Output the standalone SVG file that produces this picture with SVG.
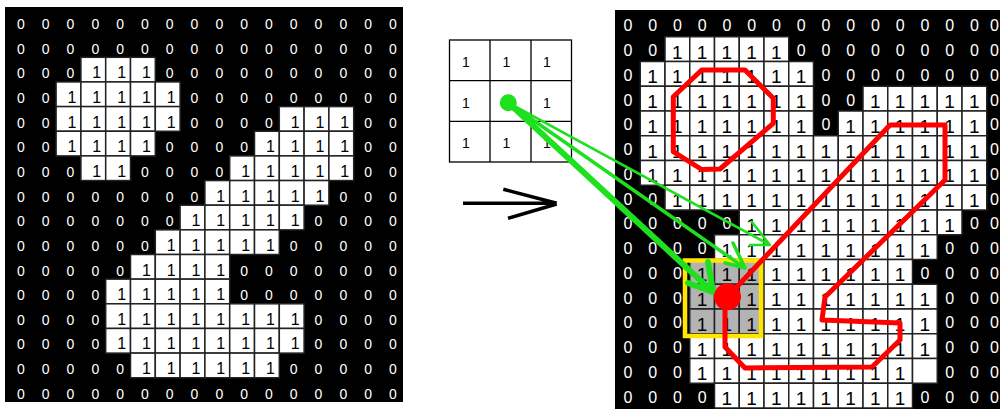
<svg xmlns="http://www.w3.org/2000/svg" xmlns:xlink="http://www.w3.org/1999/xlink" width="1000" height="409" viewBox="0 0 1000 409">
<style>
.a{font:14px "Liberation Sans",Arial,sans-serif;fill:#fff;text-anchor:middle}
.b{font:16px "Liberation Sans",Arial,sans-serif;fill:#000;text-anchor:middle}
.c{font:16px "Liberation Sans",Arial,sans-serif;fill:#fff;text-anchor:middle}
.d{font:19px "Liberation Sans",Arial,sans-serif;fill:#000;text-anchor:middle}
.k{font:14px "Liberation Sans",Arial,sans-serif;fill:#000;text-anchor:middle}
.w{fill:#fff;stroke:#222;stroke-width:1.5}
.g{fill:#b3b3b3;stroke:#222;stroke-width:1.5}
.gr{fill:none;stroke:#1ee01e;stroke-linecap:round;stroke-linejoin:round}
.rd{fill:none;stroke:#f00;stroke-width:5;stroke-linejoin:round}
</style>
<defs>
<rect id="L" class="w" y="-21" width="24.8" height="24.65"/>
<rect id="R" class="w" y="-19.3" width="24.75" height="24.75"/>
<rect id="G" class="g" y="-19.3" width="24.75" height="24.75"/>
</defs>
<rect width="1000" height="409" fill="#fff"/>
<g id="left-grid">
<rect x="5" y="7" width="398" height="395" fill="#000"/>
<g transform="translate(0,29)"><text class="a" x="20.9">0</text><text class="a" x="45.7">0</text><text class="a" x="70.5">0</text><text class="a" x="95.3">0</text><text class="a" x="120.1">0</text><text class="a" x="144.9">0</text><text class="a" x="169.7">0</text><text class="a" x="194.5">0</text><text class="a" x="219.3">0</text><text class="a" x="244.1">0</text><text class="a" x="268.9">0</text><text class="a" x="293.7">0</text><text class="a" x="318.5">0</text><text class="a" x="343.3">0</text><text class="a" x="368.1">0</text><text class="a" x="392.9">0</text></g>
<g transform="translate(0,53.65)"><text class="a" x="20.9">0</text><text class="a" x="45.7">0</text><text class="a" x="70.5">0</text><text class="a" x="95.3">0</text><text class="a" x="120.1">0</text><text class="a" x="144.9">0</text><text class="a" x="169.7">0</text><text class="a" x="194.5">0</text><text class="a" x="219.3">0</text><text class="a" x="244.1">0</text><text class="a" x="268.9">0</text><text class="a" x="293.7">0</text><text class="a" x="318.5">0</text><text class="a" x="343.3">0</text><text class="a" x="368.1">0</text><text class="a" x="392.9">0</text></g>
<g transform="translate(0,78.3)"><text class="a" x="20.9">0</text><text class="a" x="45.7">0</text><text class="a" x="70.5">0</text><use href="#L" x="80.9"/><text class="b" x="96.8">1</text><use href="#L" x="105.7"/><text class="b" x="121.6">1</text><use href="#L" x="130.5"/><text class="b" x="146.4">1</text><text class="a" x="169.7">0</text><text class="a" x="194.5">0</text><text class="a" x="219.3">0</text><text class="a" x="244.1">0</text><text class="a" x="268.9">0</text><text class="a" x="293.7">0</text><text class="a" x="318.5">0</text><text class="a" x="343.3">0</text><text class="a" x="368.1">0</text><text class="a" x="392.9">0</text></g>
<g transform="translate(0,102.95)"><text class="a" x="20.9">0</text><text class="a" x="45.7">0</text><use href="#L" x="56.1"/><text class="b" x="72">1</text><use href="#L" x="80.9"/><text class="b" x="96.8">1</text><use href="#L" x="105.7"/><text class="b" x="121.6">1</text><use href="#L" x="130.5"/><text class="b" x="146.4">1</text><use href="#L" x="155.3"/><text class="b" x="171.2">1</text><text class="a" x="194.5">0</text><text class="a" x="219.3">0</text><text class="a" x="244.1">0</text><text class="a" x="268.9">0</text><text class="a" x="293.7">0</text><text class="a" x="318.5">0</text><text class="a" x="343.3">0</text><text class="a" x="368.1">0</text><text class="a" x="392.9">0</text></g>
<g transform="translate(0,127.6)"><text class="a" x="20.9">0</text><text class="a" x="45.7">0</text><use href="#L" x="56.1"/><text class="b" x="72">1</text><use href="#L" x="80.9"/><text class="b" x="96.8">1</text><use href="#L" x="105.7"/><text class="b" x="121.6">1</text><use href="#L" x="130.5"/><text class="b" x="146.4">1</text><use href="#L" x="155.3"/><text class="b" x="171.2">1</text><text class="a" x="194.5">0</text><text class="a" x="219.3">0</text><text class="a" x="244.1">0</text><text class="a" x="268.9">0</text><use href="#L" x="279.3"/><text class="b" x="295.2">1</text><use href="#L" x="304.1"/><text class="b" x="320">1</text><use href="#L" x="328.9"/><text class="b" x="344.8">1</text><text class="a" x="368.1">0</text><text class="a" x="392.9">0</text></g>
<g transform="translate(0,152.25)"><text class="a" x="20.9">0</text><text class="a" x="45.7">0</text><use href="#L" x="56.1"/><text class="b" x="72">1</text><use href="#L" x="80.9"/><text class="b" x="96.8">1</text><use href="#L" x="105.7"/><text class="b" x="121.6">1</text><use href="#L" x="130.5"/><text class="b" x="146.4">1</text><text class="a" x="169.7">0</text><text class="a" x="194.5">0</text><text class="a" x="219.3">0</text><text class="a" x="244.1">0</text><use href="#L" x="254.5"/><text class="b" x="270.4">1</text><use href="#L" x="279.3"/><text class="b" x="295.2">1</text><use href="#L" x="304.1"/><text class="b" x="320">1</text><use href="#L" x="328.9"/><text class="b" x="344.8">1</text><text class="a" x="368.1">0</text><text class="a" x="392.9">0</text></g>
<g transform="translate(0,176.9)"><text class="a" x="20.9">0</text><text class="a" x="45.7">0</text><text class="a" x="70.5">0</text><use href="#L" x="80.9"/><text class="b" x="96.8">1</text><use href="#L" x="105.7"/><text class="b" x="121.6">1</text><text class="a" x="144.9">0</text><text class="a" x="169.7">0</text><text class="a" x="194.5">0</text><text class="a" x="219.3">0</text><use href="#L" x="229.7"/><text class="b" x="245.6">1</text><use href="#L" x="254.5"/><text class="b" x="270.4">1</text><use href="#L" x="279.3"/><text class="b" x="295.2">1</text><use href="#L" x="304.1"/><text class="b" x="320">1</text><use href="#L" x="328.9"/><text class="b" x="344.8">1</text><text class="a" x="368.1">0</text><text class="a" x="392.9">0</text></g>
<g transform="translate(0,201.55)"><text class="a" x="20.9">0</text><text class="a" x="45.7">0</text><text class="a" x="70.5">0</text><text class="a" x="95.3">0</text><text class="a" x="120.1">0</text><text class="a" x="144.9">0</text><text class="a" x="169.7">0</text><text class="a" x="194.5">0</text><use href="#L" x="204.9"/><text class="b" x="220.8">1</text><use href="#L" x="229.7"/><text class="b" x="245.6">1</text><use href="#L" x="254.5"/><text class="b" x="270.4">1</text><use href="#L" x="279.3"/><text class="b" x="295.2">1</text><use href="#L" x="304.1"/><text class="b" x="320">1</text><text class="a" x="343.3">0</text><text class="a" x="368.1">0</text><text class="a" x="392.9">0</text></g>
<g transform="translate(0,226.2)"><text class="a" x="20.9">0</text><text class="a" x="45.7">0</text><text class="a" x="70.5">0</text><text class="a" x="95.3">0</text><text class="a" x="120.1">0</text><text class="a" x="144.9">0</text><text class="a" x="169.7">0</text><use href="#L" x="180.1"/><text class="b" x="196">1</text><use href="#L" x="204.9"/><text class="b" x="220.8">1</text><use href="#L" x="229.7"/><text class="b" x="245.6">1</text><use href="#L" x="254.5"/><text class="b" x="270.4">1</text><use href="#L" x="279.3"/><text class="b" x="295.2">1</text><text class="a" x="318.5">0</text><text class="a" x="343.3">0</text><text class="a" x="368.1">0</text><text class="a" x="392.9">0</text></g>
<g transform="translate(0,250.85)"><text class="a" x="20.9">0</text><text class="a" x="45.7">0</text><text class="a" x="70.5">0</text><text class="a" x="95.3">0</text><text class="a" x="120.1">0</text><text class="a" x="144.9">0</text><use href="#L" x="155.3"/><text class="b" x="171.2">1</text><use href="#L" x="180.1"/><text class="b" x="196">1</text><use href="#L" x="204.9"/><text class="b" x="220.8">1</text><use href="#L" x="229.7"/><text class="b" x="245.6">1</text><use href="#L" x="254.5"/><text class="b" x="270.4">1</text><text class="a" x="293.7">0</text><text class="a" x="318.5">0</text><text class="a" x="343.3">0</text><text class="a" x="368.1">0</text><text class="a" x="392.9">0</text></g>
<g transform="translate(0,275.5)"><text class="a" x="20.9">0</text><text class="a" x="45.7">0</text><text class="a" x="70.5">0</text><text class="a" x="95.3">0</text><text class="a" x="120.1">0</text><use href="#L" x="130.5"/><text class="b" x="146.4">1</text><use href="#L" x="155.3"/><text class="b" x="171.2">1</text><use href="#L" x="180.1"/><text class="b" x="196">1</text><use href="#L" x="204.9"/><text class="b" x="220.8">1</text><text class="a" x="244.1">0</text><text class="a" x="268.9">0</text><text class="a" x="293.7">0</text><text class="a" x="318.5">0</text><text class="a" x="343.3">0</text><text class="a" x="368.1">0</text><text class="a" x="392.9">0</text></g>
<g transform="translate(0,300.15)"><text class="a" x="20.9">0</text><text class="a" x="45.7">0</text><text class="a" x="70.5">0</text><text class="a" x="95.3">0</text><use href="#L" x="105.7"/><text class="b" x="121.6">1</text><use href="#L" x="130.5"/><text class="b" x="146.4">1</text><use href="#L" x="155.3"/><text class="b" x="171.2">1</text><use href="#L" x="180.1"/><text class="b" x="196">1</text><use href="#L" x="204.9"/><text class="b" x="220.8">1</text><text class="a" x="244.1">0</text><text class="a" x="268.9">0</text><text class="a" x="293.7">0</text><text class="a" x="318.5">0</text><text class="a" x="343.3">0</text><text class="a" x="368.1">0</text><text class="a" x="392.9">0</text></g>
<g transform="translate(0,324.8)"><text class="a" x="20.9">0</text><text class="a" x="45.7">0</text><text class="a" x="70.5">0</text><text class="a" x="95.3">0</text><use href="#L" x="105.7"/><text class="b" x="121.6">1</text><use href="#L" x="130.5"/><text class="b" x="146.4">1</text><use href="#L" x="155.3"/><text class="b" x="171.2">1</text><use href="#L" x="180.1"/><text class="b" x="196">1</text><use href="#L" x="204.9"/><text class="b" x="220.8">1</text><use href="#L" x="229.7"/><text class="b" x="245.6">1</text><use href="#L" x="254.5"/><text class="b" x="270.4">1</text><use href="#L" x="279.3"/><text class="b" x="295.2">1</text><text class="a" x="318.5">0</text><text class="a" x="343.3">0</text><text class="a" x="368.1">0</text><text class="a" x="392.9">0</text></g>
<g transform="translate(0,349.45)"><text class="a" x="20.9">0</text><text class="a" x="45.7">0</text><text class="a" x="70.5">0</text><text class="a" x="95.3">0</text><use href="#L" x="105.7"/><text class="b" x="121.6">1</text><use href="#L" x="130.5"/><text class="b" x="146.4">1</text><use href="#L" x="155.3"/><text class="b" x="171.2">1</text><use href="#L" x="180.1"/><text class="b" x="196">1</text><use href="#L" x="204.9"/><text class="b" x="220.8">1</text><use href="#L" x="229.7"/><text class="b" x="245.6">1</text><use href="#L" x="254.5"/><text class="b" x="270.4">1</text><use href="#L" x="279.3"/><text class="b" x="295.2">1</text><text class="a" x="318.5">0</text><text class="a" x="343.3">0</text><text class="a" x="368.1">0</text><text class="a" x="392.9">0</text></g>
<g transform="translate(0,374.1)"><text class="a" x="20.9">0</text><text class="a" x="45.7">0</text><text class="a" x="70.5">0</text><text class="a" x="95.3">0</text><text class="a" x="120.1">0</text><use href="#L" x="130.5"/><text class="b" x="146.4">1</text><use href="#L" x="155.3"/><text class="b" x="171.2">1</text><use href="#L" x="180.1"/><text class="b" x="196">1</text><use href="#L" x="204.9"/><text class="b" x="220.8">1</text><use href="#L" x="229.7"/><text class="b" x="245.6">1</text><use href="#L" x="254.5"/><text class="b" x="270.4">1</text><text class="a" x="293.7">0</text><text class="a" x="318.5">0</text><text class="a" x="343.3">0</text><text class="a" x="368.1">0</text><text class="a" x="392.9">0</text></g>
<g transform="translate(0,398.75)"><text class="a" x="20.9">0</text><text class="a" x="45.7">0</text><text class="a" x="70.5">0</text><text class="a" x="95.3">0</text><text class="a" x="120.1">0</text><text class="a" x="144.9">0</text><text class="a" x="169.7">0</text><text class="a" x="194.5">0</text><text class="a" x="219.3">0</text><text class="a" x="244.1">0</text><text class="a" x="268.9">0</text><text class="a" x="293.7">0</text><text class="a" x="318.5">0</text><text class="a" x="343.3">0</text><text class="a" x="368.1">0</text><text class="a" x="392.9">0</text></g>
</g>
<g id="kernel">
<rect x="449.5" y="40" width="122" height="122" fill="#fff" stroke="#000" stroke-width="1.3"/>
<path d="M490 40V162M531 40V162M449.5 80.7H571.5M449.5 121.3H571.5" stroke="#000" stroke-width="1.3"/>
<text class="k" x="466" y="66.7">1</text><text class="k" x="506.5" y="66.7">1</text><text class="k" x="547" y="66.7">1</text>
<text class="k" x="466" y="108.3">1</text><text class="k" x="547" y="108.3">1</text>
<text class="k" x="466" y="148.3">1</text><text class="k" x="506.5" y="148.3">1</text><text class="k" x="547" y="148.3">1</text>
</g>
<g id="right-grid">
<rect x="615" y="10" width="385" height="399" fill="#000"/>
<g transform="translate(0,31.3)"><text class="c" x="627.9">0</text><text class="c" x="652.6">0</text><text class="c" x="677.4">0</text><text class="c" x="702.1">0</text><text class="c" x="726.9">0</text><text class="c" x="751.6">0</text><text class="c" x="776.4">0</text><text class="c" x="801.1">0</text><text class="c" x="825.9">0</text><text class="c" x="850.6">0</text><text class="c" x="875.4">0</text><text class="c" x="900.1">0</text><text class="c" x="924.9">0</text><text class="c" x="949.6">0</text><text class="c" x="974.4">0</text><text class="c" x="994.5">0</text></g>
<g transform="translate(0,56.05)"><text class="c" x="627.9">0</text><text class="c" x="652.6">0</text><use href="#R" x="665"/><text class="d" x="677.4" y="2.5">1</text><use href="#R" x="689.75"/><text class="d" x="702.1" y="2.5">1</text><use href="#R" x="714.5"/><text class="d" x="726.9" y="2.5">1</text><use href="#R" x="739.25"/><text class="d" x="751.6" y="2.5">1</text><use href="#R" x="764"/><text class="d" x="776.4" y="2.5">1</text><text class="c" x="801.1">0</text><text class="c" x="825.9">0</text><text class="c" x="850.6">0</text><text class="c" x="875.4">0</text><text class="c" x="900.1">0</text><text class="c" x="924.9">0</text><text class="c" x="949.6">0</text><text class="c" x="974.4">0</text><text class="c" x="994.5">0</text></g>
<g transform="translate(0,80.8)"><text class="c" x="627.9">0</text><use href="#R" x="640.25"/><text class="d" x="652.6" y="2.5">1</text><use href="#R" x="665"/><text class="d" x="677.4" y="2.5">1</text><use href="#R" x="689.75"/><text class="d" x="702.1" y="2.5">1</text><use href="#R" x="714.5"/><text class="d" x="726.9" y="2.5">1</text><use href="#R" x="739.25"/><text class="d" x="751.6" y="2.5">1</text><use href="#R" x="764"/><text class="d" x="776.4" y="2.5">1</text><use href="#R" x="788.75"/><text class="d" x="801.1" y="2.5">1</text><text class="c" x="825.9">0</text><text class="c" x="850.6">0</text><text class="c" x="875.4">0</text><text class="c" x="900.1">0</text><text class="c" x="924.9">0</text><text class="c" x="949.6">0</text><text class="c" x="974.4">0</text><text class="c" x="994.5">0</text></g>
<g transform="translate(0,105.55)"><text class="c" x="627.9">0</text><use href="#R" x="640.25"/><text class="d" x="652.6" y="2.5">1</text><use href="#R" x="665"/><text class="d" x="677.4" y="2.5">1</text><use href="#R" x="689.75"/><text class="d" x="702.1" y="2.5">1</text><use href="#R" x="714.5"/><text class="d" x="726.9" y="2.5">1</text><use href="#R" x="739.25"/><text class="d" x="751.6" y="2.5">1</text><use href="#R" x="764"/><text class="d" x="776.4" y="2.5">1</text><use href="#R" x="788.75"/><text class="d" x="801.1" y="2.5">1</text><text class="c" x="825.9">0</text><text class="c" x="850.6">0</text><use href="#R" x="863"/><text class="d" x="875.4" y="2.5">1</text><use href="#R" x="887.75"/><text class="d" x="900.1" y="2.5">1</text><use href="#R" x="912.5"/><text class="d" x="924.9" y="2.5">1</text><use href="#R" x="937.25"/><text class="d" x="949.6" y="2.5">1</text><use href="#R" x="962"/><text class="d" x="974.4" y="2.5">1</text><text class="c" x="994.5">0</text></g>
<g transform="translate(0,130.3)"><text class="c" x="627.9">0</text><use href="#R" x="640.25"/><text class="d" x="652.6" y="2.5">1</text><use href="#R" x="665"/><text class="d" x="677.4" y="2.5">1</text><use href="#R" x="689.75"/><text class="d" x="702.1" y="2.5">1</text><use href="#R" x="714.5"/><text class="d" x="726.9" y="2.5">1</text><use href="#R" x="739.25"/><text class="d" x="751.6" y="2.5">1</text><use href="#R" x="764"/><text class="d" x="776.4" y="2.5">1</text><use href="#R" x="788.75"/><text class="d" x="801.1" y="2.5">1</text><text class="c" x="825.9">0</text><use href="#R" x="838.25"/><text class="d" x="850.6" y="2.5">1</text><use href="#R" x="863"/><text class="d" x="875.4" y="2.5">1</text><use href="#R" x="887.75"/><text class="d" x="900.1" y="2.5">1</text><use href="#R" x="912.5"/><text class="d" x="924.9" y="2.5">1</text><use href="#R" x="937.25"/><text class="d" x="949.6" y="2.5">1</text><use href="#R" x="962"/><text class="d" x="974.4" y="2.5">1</text><text class="c" x="994.5">0</text></g>
<g transform="translate(0,155.05)"><text class="c" x="627.9">0</text><use href="#R" x="640.25"/><text class="d" x="652.6" y="2.5">1</text><use href="#R" x="665"/><text class="d" x="677.4" y="2.5">1</text><use href="#R" x="689.75"/><text class="d" x="702.1" y="2.5">1</text><use href="#R" x="714.5"/><text class="d" x="726.9" y="2.5">1</text><use href="#R" x="739.25"/><text class="d" x="751.6" y="2.5">1</text><use href="#R" x="764"/><text class="d" x="776.4" y="2.5">1</text><use href="#R" x="788.75"/><text class="d" x="801.1" y="2.5">1</text><use href="#R" x="813.5"/><text class="d" x="825.9" y="2.5">1</text><use href="#R" x="838.25"/><text class="d" x="850.6" y="2.5">1</text><use href="#R" x="863"/><text class="d" x="875.4" y="2.5">1</text><use href="#R" x="887.75"/><text class="d" x="900.1" y="2.5">1</text><use href="#R" x="912.5"/><text class="d" x="924.9" y="2.5">1</text><use href="#R" x="937.25"/><text class="d" x="949.6" y="2.5">1</text><use href="#R" x="962"/><text class="d" x="974.4" y="2.5">1</text><text class="c" x="994.5">0</text></g>
<g transform="translate(0,179.8)"><text class="c" x="627.9">0</text><use href="#R" x="640.25"/><text class="d" x="652.6" y="2.5">1</text><use href="#R" x="665"/><text class="d" x="677.4" y="2.5">1</text><use href="#R" x="689.75"/><text class="d" x="702.1" y="2.5">1</text><use href="#R" x="714.5"/><text class="d" x="726.9" y="2.5">1</text><use href="#R" x="739.25"/><text class="d" x="751.6" y="2.5">1</text><use href="#R" x="764"/><text class="d" x="776.4" y="2.5">1</text><use href="#R" x="788.75"/><text class="d" x="801.1" y="2.5">1</text><use href="#R" x="813.5"/><text class="d" x="825.9" y="2.5">1</text><use href="#R" x="838.25"/><text class="d" x="850.6" y="2.5">1</text><use href="#R" x="863"/><text class="d" x="875.4" y="2.5">1</text><use href="#R" x="887.75"/><text class="d" x="900.1" y="2.5">1</text><use href="#R" x="912.5"/><text class="d" x="924.9" y="2.5">1</text><use href="#R" x="937.25"/><text class="d" x="949.6" y="2.5">1</text><use href="#R" x="962"/><text class="d" x="974.4" y="2.5">1</text><text class="c" x="994.5">0</text></g>
<g transform="translate(0,204.55)"><text class="c" x="627.9">0</text><text class="c" x="652.6">0</text><use href="#R" x="665"/><text class="d" x="677.4" y="2.5">1</text><use href="#R" x="689.75"/><text class="d" x="702.1" y="2.5">1</text><use href="#R" x="714.5"/><text class="d" x="726.9" y="2.5">1</text><use href="#R" x="739.25"/><text class="d" x="751.6" y="2.5">1</text><use href="#R" x="764"/><text class="d" x="776.4" y="2.5">1</text><use href="#R" x="788.75"/><text class="d" x="801.1" y="2.5">1</text><use href="#R" x="813.5"/><text class="d" x="825.9" y="2.5">1</text><use href="#R" x="838.25"/><text class="d" x="850.6" y="2.5">1</text><use href="#R" x="863"/><text class="d" x="875.4" y="2.5">1</text><use href="#R" x="887.75"/><text class="d" x="900.1" y="2.5">1</text><use href="#R" x="912.5"/><text class="d" x="924.9" y="2.5">1</text><use href="#R" x="937.25"/><text class="d" x="949.6" y="2.5">1</text><use href="#R" x="962"/><text class="d" x="974.4" y="2.5">1</text><text class="c" x="994.5">0</text></g>
<g transform="translate(0,229.3)"><text class="c" x="627.9">0</text><text class="c" x="652.6">0</text><text class="c" x="677.4">0</text><text class="c" x="702.1">0</text><text class="c" x="726.9">0</text><use href="#R" x="739.25"/><text class="d" x="751.6" y="2.5">1</text><use href="#R" x="764"/><text class="d" x="776.4" y="2.5">1</text><use href="#R" x="788.75"/><text class="d" x="801.1" y="2.5">1</text><use href="#R" x="813.5"/><text class="d" x="825.9" y="2.5">1</text><use href="#R" x="838.25"/><text class="d" x="850.6" y="2.5">1</text><use href="#R" x="863"/><text class="d" x="875.4" y="2.5">1</text><use href="#R" x="887.75"/><text class="d" x="900.1" y="2.5">1</text><use href="#R" x="912.5"/><text class="d" x="924.9" y="2.5">1</text><use href="#R" x="937.25"/><text class="d" x="949.6" y="2.5">1</text><text class="c" x="974.4">0</text><text class="c" x="994.5">0</text></g>
<g transform="translate(0,254.05)"><text class="c" x="627.9">0</text><text class="c" x="652.6">0</text><text class="c" x="677.4">0</text><text class="c" x="702.1">0</text><use href="#R" x="714.5"/><text class="d" x="726.9" y="2.5">1</text><use href="#R" x="739.25"/><text class="d" x="751.6" y="2.5">1</text><use href="#R" x="764"/><text class="d" x="776.4" y="2.5">1</text><use href="#R" x="788.75"/><text class="d" x="801.1" y="2.5">1</text><use href="#R" x="813.5"/><text class="d" x="825.9" y="2.5">1</text><use href="#R" x="838.25"/><text class="d" x="850.6" y="2.5">1</text><use href="#R" x="863"/><text class="d" x="875.4" y="2.5">1</text><use href="#R" x="887.75"/><text class="d" x="900.1" y="2.5">1</text><use href="#R" x="912.5"/><text class="d" x="924.9" y="2.5">1</text><text class="c" x="949.6">0</text><text class="c" x="974.4">0</text><text class="c" x="994.5">0</text></g>
<g transform="translate(0,278.8)"><text class="c" x="627.9">0</text><text class="c" x="652.6">0</text><text class="c" x="677.4">0</text><use href="#G" x="689.75"/><text class="d" x="702.1" y="2.5">1</text><use href="#G" x="714.5"/><text class="d" x="726.9" y="2.5">1</text><use href="#G" x="739.25"/><text class="d" x="751.6" y="2.5">1</text><use href="#R" x="764"/><text class="d" x="776.4" y="2.5">1</text><use href="#R" x="788.75"/><text class="d" x="801.1" y="2.5">1</text><use href="#R" x="813.5"/><text class="d" x="825.9" y="2.5">1</text><use href="#R" x="838.25"/><text class="d" x="850.6" y="2.5">1</text><use href="#R" x="863"/><text class="d" x="875.4" y="2.5">1</text><use href="#R" x="887.75"/><text class="d" x="900.1" y="2.5">1</text><text class="c" x="924.9">0</text><text class="c" x="949.6">0</text><text class="c" x="974.4">0</text><text class="c" x="994.5">0</text></g>
<g transform="translate(0,303.55)"><text class="c" x="627.9">0</text><text class="c" x="652.6">0</text><text class="c" x="677.4">0</text><use href="#G" x="689.75"/><text class="d" x="702.1" y="2.5">1</text><use href="#G" x="714.5"/><text class="d" x="726.9" y="2.5">1</text><use href="#G" x="739.25"/><text class="d" x="751.6" y="2.5">1</text><use href="#R" x="764"/><text class="d" x="776.4" y="2.5">1</text><use href="#R" x="788.75"/><text class="d" x="801.1" y="2.5">1</text><use href="#R" x="813.5"/><text class="d" x="825.9" y="2.5">1</text><use href="#R" x="838.25"/><text class="d" x="850.6" y="2.5">1</text><use href="#R" x="863"/><text class="d" x="875.4" y="2.5">1</text><use href="#R" x="887.75"/><text class="d" x="900.1" y="2.5">1</text><use href="#R" x="912.5"/><text class="d" x="924.9" y="2.5">1</text><text class="c" x="949.6">0</text><text class="c" x="974.4">0</text><text class="c" x="994.5">0</text></g>
<g transform="translate(0,328.3)"><text class="c" x="627.9">0</text><text class="c" x="652.6">0</text><text class="c" x="677.4">0</text><use href="#G" x="689.75"/><text class="d" x="702.1" y="2.5">1</text><use href="#G" x="714.5"/><text class="d" x="726.9" y="2.5">1</text><use href="#G" x="739.25"/><text class="d" x="751.6" y="2.5">1</text><use href="#R" x="764"/><text class="d" x="776.4" y="2.5">1</text><use href="#R" x="788.75"/><text class="d" x="801.1" y="2.5">1</text><use href="#R" x="813.5"/><text class="d" x="825.9" y="2.5">1</text><use href="#R" x="838.25"/><text class="d" x="850.6" y="2.5">1</text><use href="#R" x="863"/><text class="d" x="875.4" y="2.5">1</text><use href="#R" x="887.75"/><text class="d" x="900.1" y="2.5">1</text><use href="#R" x="912.5"/><text class="d" x="924.9" y="2.5">1</text><text class="c" x="949.6">0</text><text class="c" x="974.4">0</text><text class="c" x="994.5">0</text></g>
<g transform="translate(0,353.05)"><text class="c" x="627.9">0</text><text class="c" x="652.6">0</text><text class="c" x="677.4">0</text><use href="#R" x="689.75"/><text class="d" x="702.1" y="2.5">1</text><use href="#R" x="714.5"/><text class="d" x="726.9" y="2.5">1</text><use href="#R" x="739.25"/><text class="d" x="751.6" y="2.5">1</text><use href="#R" x="764"/><text class="d" x="776.4" y="2.5">1</text><use href="#R" x="788.75"/><text class="d" x="801.1" y="2.5">1</text><use href="#R" x="813.5"/><text class="d" x="825.9" y="2.5">1</text><use href="#R" x="838.25"/><text class="d" x="850.6" y="2.5">1</text><use href="#R" x="863"/><text class="d" x="875.4" y="2.5">1</text><use href="#R" x="887.75"/><text class="d" x="900.1" y="2.5">1</text><use href="#R" x="912.5"/><text class="d" x="924.9" y="2.5">1</text><text class="c" x="949.6">0</text><text class="c" x="974.4">0</text><text class="c" x="994.5">0</text></g>
<g transform="translate(0,377.8)"><text class="c" x="627.9">0</text><text class="c" x="652.6">0</text><text class="c" x="677.4">0</text><use href="#R" x="689.75"/><text class="d" x="702.1" y="2.5">1</text><use href="#R" x="714.5"/><text class="d" x="726.9" y="2.5">1</text><use href="#R" x="739.25"/><text class="d" x="751.6" y="2.5">1</text><use href="#R" x="764"/><text class="d" x="776.4" y="2.5">1</text><use href="#R" x="788.75"/><text class="d" x="801.1" y="2.5">1</text><use href="#R" x="813.5"/><text class="d" x="825.9" y="2.5">1</text><use href="#R" x="838.25"/><text class="d" x="850.6" y="2.5">1</text><use href="#R" x="863"/><text class="d" x="875.4" y="2.5">1</text><use href="#R" x="887.75"/><text class="d" x="900.1" y="2.5">1</text><use href="#R" x="912.5"/><text class="c" x="949.6">0</text><text class="c" x="974.4">0</text><text class="c" x="994.5">0</text></g>
<g transform="translate(0,402.55)"><text class="c" x="627.9">0</text><text class="c" x="652.6">0</text><text class="c" x="677.4">0</text><text class="c" x="702.1">0</text><use href="#R" x="714.5"/><text class="d" x="726.9" y="2.5">1</text><use href="#R" x="739.25"/><text class="d" x="751.6" y="2.5">1</text><use href="#R" x="764"/><text class="d" x="776.4" y="2.5">1</text><use href="#R" x="788.75"/><text class="d" x="801.1" y="2.5">1</text><use href="#R" x="813.5"/><text class="d" x="825.9" y="2.5">1</text><use href="#R" x="838.25"/><text class="d" x="850.6" y="2.5">1</text><use href="#R" x="863"/><text class="d" x="875.4" y="2.5">1</text><use href="#R" x="887.75"/><text class="d" x="900.1" y="2.5">1</text><text class="c" x="924.9">0</text><text class="c" x="949.6">0</text><text class="c" x="974.4">0</text><text class="c" x="994.5">0</text></g>
<rect id="window" x="685" y="260.5" width="76" height="75.5" fill="none" stroke="#ffe600" stroke-width="4.5"/>
</g>
<g id="connectors">
<path d="M463 203.3H556.7M503.3 189.3L556.7 203.3M508 218.3L556.7 204" fill="none" stroke="#000" stroke-width="3.5"/>
<path class="gr" stroke-width="2.5" d="M508.3 102.7L770 245M751.7 221.7L770 245L750 245"/>
<path class="gr" stroke-width="3.5" d="M508.3 102.7L745 268M733 243L745 268L725 263"/>
<path class="gr" stroke-width="6" d="M508.3 102.7L713 292M708 262L713 292L688 283"/>
<circle cx="508.3" cy="102.7" r="8.5" fill="#1ee01e"/>
</g>
<g id="contours">
<polygon class="rd" points="701.7,70 745,70 773.3,98.3 773.3,123.3 720,169 701.7,169.5 673.3,151.7 673.3,96.7"/>
<path class="rd" d="M727.5 296.7L890 125L945 125L945 180L825 297L822 320L900 323L900 340L872 367L745 368L725 347L725 310"/>
<circle cx="727.5" cy="296.7" r="13.5" fill="#f00"/>
</g>
</svg>
